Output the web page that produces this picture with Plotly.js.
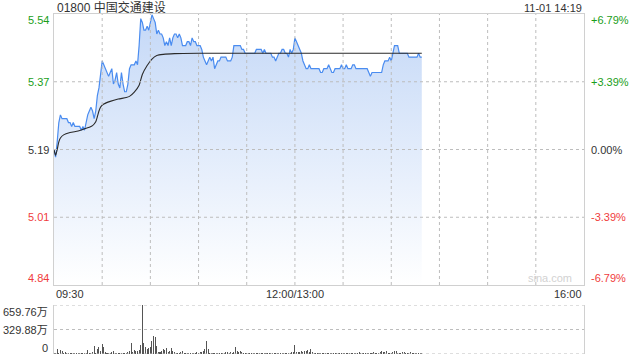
<!DOCTYPE html>
<html><head><meta charset="utf-8">
<script src="https://cdn.plot.ly/plotly-3.0.1.min.js"></script>
<style>html,body{margin:0;padding:0;background:#fff}#chart{width:640px;height:360px}</style>
</head><body><div id="chart"></div>
<script>
const stockTitle = '01800 中国交通建设';
const stampText = '11-01 14:19';
const timeLabels = ['09:30', '12:00/13:00', '16:00'];
const timeLabelMinutes = [0, 150, 330];
const gridMinutes = [30, 60, 90, 120, 150, 180, 210, 240, 270, 300];
const priceLabels = ['5.54', '5.37', '5.19', '5.01', '4.84'];
const pctLabels = ['+6.79%', '+3.39%', '0.00%', '-3.39%', '-6.79%'];
const labelLevels = [5.542, 5.366, 5.19, 5.014, 4.838];
const gridLevels = [5.366, 5.19, 5.014];
const volLabels = ['659.76万', '329.88万', '0'];
const volLevels = [659.76, 329.88, 0];

const prices = [
5.19,5.17,5.21,5.26,5.28,5.27,5.27,5.27,5.27,5.26,
5.26,5.25,5.26,5.25,5.25,5.25,5.25,5.24,5.25,5.24,
5.26,5.28,5.29,5.30,5.29,5.27,5.29,5.33,5.35,5.39,
5.42,5.41,5.40,5.39,5.38,5.39,5.40,5.36,5.37,5.39,
5.36,5.35,5.39,5.36,5.34,5.34,5.36,5.40,5.41,5.41,
5.41,5.42,5.41,5.46,5.53,5.52,5.50,5.50,5.51,5.50,
5.52,5.54,5.53,5.52,5.49,5.50,5.49,5.49,5.48,5.46,
5.47,5.46,5.48,5.46,5.48,5.49,5.49,5.48,5.49,5.48,
5.46,5.46,5.46,5.47,5.47,5.46,5.48,5.47,5.47,5.46,
5.46,5.46,5.45,5.43,5.42,5.41,5.42,5.43,5.42,5.43,
5.40,5.41,5.42,5.42,5.43,5.43,5.43,5.43,5.42,5.42,
5.42,5.43,5.46,5.46,5.46,5.46,5.46,5.45,5.45,5.44,
5.44,5.44,5.44,5.44,5.44,5.44,5.45,5.45,5.45,5.45,
5.44,5.45,5.44,5.44,5.44,5.44,5.43,5.43,5.42,5.43,
5.44,5.44,5.45,5.45,5.44,5.44,5.43,5.45,5.44,5.45,
5.48,5.47,5.46,5.45,5.44,5.42,5.41,5.40,5.40,5.41,
5.40,5.40,5.40,5.40,5.40,5.40,5.39,5.39,5.40,5.40,
5.40,5.41,5.40,5.39,5.39,5.40,5.40,5.40,5.40,5.41,
5.40,5.40,5.41,5.40,5.40,5.40,5.41,5.41,5.40,5.40,
5.40,5.40,5.40,5.40,5.40,5.40,5.39,5.38,5.39,5.39,
5.39,5.39,5.39,5.39,5.39,5.41,5.42,5.42,5.42,5.43,
5.42,5.44,5.46,5.46,5.46,5.44,5.44,5.44,5.44,5.44,
5.44,5.43,5.43,5.43,5.43,5.43,5.43,5.44,5.43,5.43
];

const avgMinutes = [0,1,2,3,4,6,10,15,18,20,22,24,26,27,28,29,31,35,40,45,47,50,53,55,58,61,64,68,75,90,120,160,229];
const avgPrices = [5.19,5.175,5.19,5.21,5.22,5.228,5.234,5.238,5.242,5.245,5.248,5.252,5.262,5.275,5.29,5.30,5.308,5.315,5.321,5.325,5.328,5.339,5.357,5.385,5.408,5.425,5.434,5.437,5.439,5.44,5.44,5.44,5.44];

const volumes = [
18,12,63,20,54,40,15,22,10,14,
12,18,9,14,16,11,20,13,12,17,
15,54,14,20,31,108,18,63,90,40,
135,90,30,14,12,18,25,40,15,12,
10,14,12,9,16,18,22,45,153,30,
54,45,36,54,121,660,144,90,63,76,
90,175,242,233,108,30,25,40,63,54,
76,30,45,76,40,25,20,18,12,22,
40,10,14,12,9,11,15,12,18,25,
14,22,30,45,63,175,63,20,14,15,
10,12,18,15,12,20,14,25,30,18,
22,20,25,99,40,30,36,22,14,12,
16,10,14,12,9,11,13,10,15,12,
14,12,10,16,13,9,18,12,10,14,
12,16,14,18,11,20,15,12,22,25,
121,25,30,22,36,25,40,36,54,30,
63,22,15,12,10,14,12,9,13,11,
15,12,10,14,18,12,16,9,11,14,
12,10,15,18,14,16,12,20,14,18,
22,15,12,18,14,20,16,12,18,25,
14,18,20,30,45,30,25,36,14,12,
18,25,40,36,20,14,16,30,22,12,
18,14,22,20,12,16,18,14,20,10
];

const minutes = prices.map((_, i) => i);

const FONT = 'Arial, "Liberation Sans", "Noto Sans CJK SC", sans-serif';
const GREEN = '#1a9e1a', RED = '#f03c3c', DARK = '#333333';
const labelColors = [GREEN, GREEN, DARK, RED, RED];
const labelShift = [-6, 0, 0, 0, 7];
const volShift = [-7, 0, 6];
const GRID = {color: '#bdbdbd', width: 1, dash: 'dot'};

// pixel helpers for plot area (l=54, r=56, t=14, b=6)
const px2x = px => (px - 54) / 530;
const py2y = py => (354 - py) / 340;

const traces = [
  {
    type: 'scatter', mode: 'lines', x: minutes, y: prices,
    xaxis: 'x', yaxis: 'y',
    line: {color: '#4a8cf0', width: 1.2},
    fill: 'tozeroy',
    fillgradient: {type: 'vertical', start: 4.838, stop: 5.542,
      colorscale: [[0, 'rgba(255,255,255,1)'], [1, 'rgb(196,216,247)']]},
    hoverinfo: 'skip'
  },
  {
    type: 'scatter', mode: 'lines', x: avgMinutes, y: avgPrices,
    xaxis: 'x', yaxis: 'y',
    line: {color: '#2a2a2a', width: 1.1, shape: 'spline', smoothing: 0.6},
    hoverinfo: 'skip'
  },
  {
    type: 'bar', x: minutes, y: volumes, xaxis: 'x2', yaxis: 'y2',
    width: 0.65, marker: {color: '#555555', line: {width: 0}},
    hoverinfo: 'skip'
  }
];

const annotations = [];
annotations.push({xref: 'paper', yref: 'paper', x: px2x(55), y: py2y(7.5), xanchor: 'left', yanchor: 'middle',
  text: stockTitle, showarrow: false, font: {family: FONT, size: 12, color: DARK}});
annotations.push({xref: 'paper', yref: 'paper', x: px2x(584), y: py2y(7.5), xanchor: 'right', yanchor: 'middle',
  text: stampText, showarrow: false, font: {family: FONT, size: 11, color: DARK}});
annotations.push({xref: 'paper', yref: 'paper', x: px2x(574), y: py2y(278), xanchor: 'right', yanchor: 'middle',
  text: 'sina.com', showarrow: false, font: {family: FONT, size: 11, color: '#d2d2d2'}});
labelLevels.forEach((lv, i) => {
  annotations.push({xref: 'paper', yref: 'y', x: px2x(51), y: lv, xanchor: 'right', yanchor: 'middle', yshift: labelShift[i],
    text: priceLabels[i], showarrow: false, font: {family: FONT, size: 11, color: labelColors[i]}});
  annotations.push({xref: 'paper', yref: 'y', x: px2x(589), y: lv, xanchor: 'left', yanchor: 'middle', yshift: labelShift[i],
    text: pctLabels[i], showarrow: false, font: {family: FONT, size: 11, color: labelColors[i]}});
});
const tAnchors = ['left', 'center', 'right'];
timeLabels.forEach((t, i) => {
  annotations.push({xref: 'x', yref: 'paper', x: timeLabelMinutes[i], y: py2y(294), xanchor: tAnchors[i], yanchor: 'middle',
    text: t, showarrow: false, font: {family: FONT, size: 11, color: DARK}});
});
volLevels.forEach((v, i) => {
  annotations.push({xref: 'paper', yref: 'y2', x: px2x(50), y: v, xanchor: 'right', yanchor: 'middle', yshift: volShift[i],
    text: volLabels[i], showarrow: false, font: {family: FONT, size: 11, color: DARK}});
});

const shapes = [];
volLevels.forEach(v => shapes.push({type: 'line', xref: 'paper', yref: 'y2', x0: 0, x1: 1, y0: v, y1: v,
  line: GRID, layer: 'above'}));
gridLevels.forEach(v => shapes.push({type: 'line', xref: 'paper', yref: 'y', x0: 0, x1: 1, y0: v, y1: v,
  line: GRID, layer: 'above'}));
gridMinutes.forEach(m => shapes.push({type: 'line', xref: 'x', yref: 'y', x0: m, x1: m, y0: 4.838, y1: 5.542,
  line: GRID, layer: 'above'}));

const layout = {
  width: 640, height: 360,
  margin: {l: 54, r: 56, t: 14, b: 6, pad: 0},
  paper_bgcolor: '#ffffff', plot_bgcolor: 'rgba(0,0,0,0)',
  showlegend: false,
  font: {family: FONT, size: 11, color: DARK},
  xaxis: {domain: [0, 1], range: [0, 330], anchor: 'y', showticklabels: false, ticks: '',
    showgrid: false, zeroline: false,
    showline: true, mirror: true, linecolor: '#d0d0d0', linewidth: 1, fixedrange: true},
  yaxis: {domain: [py2y(285), 1], range: [4.838, 5.542], anchor: 'x', showticklabels: false, ticks: '',
    showgrid: false, zeroline: false,
    showline: true, mirror: true, linecolor: '#d0d0d0', linewidth: 1, fixedrange: true},
  xaxis2: {domain: [0, 1], range: [0, 330], anchor: 'y2', showticklabels: false, ticks: '', showgrid: false,
    zeroline: false, showline: false, fixedrange: true},
  yaxis2: {domain: [0, py2y(305)], range: [0, 659.76], anchor: 'x2', showticklabels: false, ticks: '', showgrid: false,
    zeroline: false, showline: true, mirror: true, linecolor: '#d0d0d0', linewidth: 1, fixedrange: true},
  annotations: annotations,
  shapes: shapes,
  bargap: 0
};

Plotly.newPlot('chart', traces, layout, {staticPlot: true, displayModeBar: false});
</script>
</body></html>
